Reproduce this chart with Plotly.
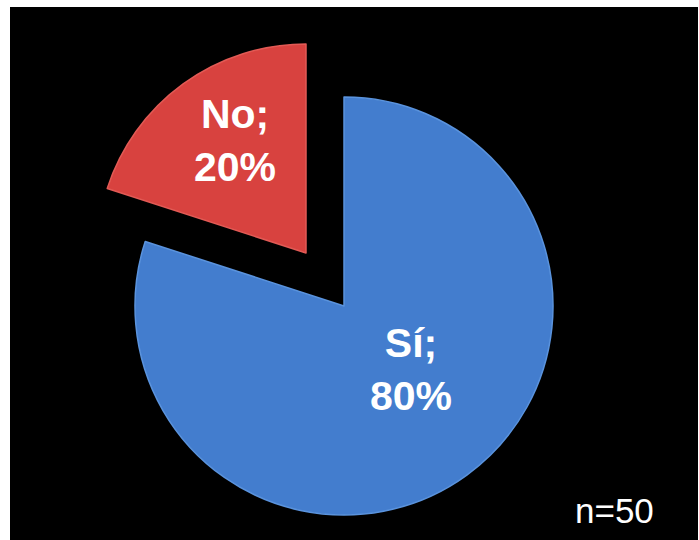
import plotly.graph_objects as go

# Survey answers
labels = ["Sí", "No"]
values = [80, 20]
colors = ["#437DCE", "#D8423F"]
edge_colors = ["#5A93DD", "#E25A55"]
sample_note = "n=50"

W, H = 699, 540
cx, cy, r = 344, 306, 209          # pie centre and radius in pixels
pull_dx, pull_dy = -38, -53         # offset of the exploded "No" slice
# label centres relative to each slice's pie centre (pixels, y down)
label_offsets = [(67, 63), (-71, -113)]

FONT = "Liberation Sans, Arial, sans-serif"


def domain(cxp, cyp):
    return dict(
        x=[(cxp - r) / W, (cxp + r) / W],
        y=[1 - (cyp + r) / H, 1 - (cyp - r) / H],
    )


def slice_trace(show_idx, dom):
    fills = [c if i == show_idx else "rgba(0,0,0,0)" for i, c in enumerate(colors)]
    lines = [c if i == show_idx else "rgba(0,0,0,0)" for i, c in enumerate(edge_colors)]
    return go.Pie(
        labels=labels,
        values=values,
        sort=False,
        direction="clockwise",
        rotation=0,
        domain=dom,
        marker=dict(colors=fills, line=dict(color=lines, width=1.5)),
        textinfo="none",
        showlegend=False,
        hoverinfo="label+percent",
    )


centres = [(cx, cy), (cx + pull_dx, cy + pull_dy)]

fig = go.Figure()
for i, (px, py) in enumerate(centres):
    fig.add_trace(slice_trace(i, domain(px, py)))

annotations = []
for i, ((px, py), (ox, oy)) in enumerate(zip(centres, label_offsets)):
    annotations.append(dict(
        text=f"<b>{labels[i]};<br>{values[i]}%</b>",
        xref="paper", yref="paper",
        x=(px + ox) / W, y=1 - (py + oy) / H,
        xanchor="center", yanchor="middle", align="center",
        showarrow=False,
        font=dict(family=FONT, size=41, color="white"),
    ))

annotations.append(dict(
    text=sample_note, xref="paper", yref="paper",
    x=614 / W, y=1 - 510 / H, xanchor="center", yanchor="middle",
    showarrow=False,
    font=dict(family=FONT, size=35, color="white"),
))

fig.update_layout(
    width=W,
    height=H,
    margin=dict(l=0, r=0, t=0, b=0),
    paper_bgcolor="white",
    shapes=[
        dict(
            type="rect", xref="paper", yref="paper", layer="below",
            x0=10 / W, x1=698 / W, y0=0, y1=1 - 7 / H,
            fillcolor="black", line=dict(width=0),
        )
    ],
    annotations=annotations,
)

fig.write_html("out.html")
